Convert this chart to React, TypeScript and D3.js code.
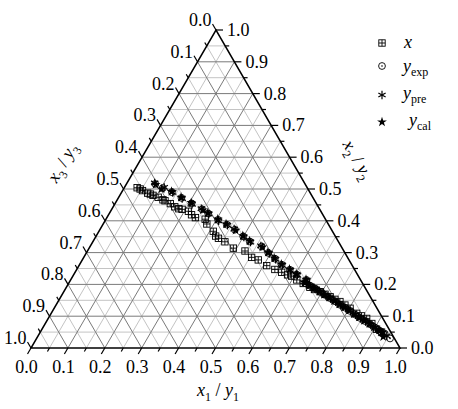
import React from "react";
import * as d3 from "d3";

// composition pairs [x1, x2]  (x3 = 1 - x1 - x2)
const xPhase: [number, number][] = [
  [0.035, 0.504], [0.045, 0.5], [0.054, 0.495], [0.072, 0.487], [0.081, 0.484],
  [0.09, 0.48], [0.107, 0.474], [0.124, 0.466], [0.131, 0.463], [0.15, 0.454],
  [0.167, 0.444], [0.181, 0.438], [0.191, 0.436], [0.211, 0.43], [0.225, 0.419],
  [0.24, 0.41], [0.269, 0.405], [0.281, 0.39], [0.31, 0.367], [0.324, 0.352],
  [0.335, 0.345], [0.358, 0.334], [0.391, 0.314], [0.427, 0.305], [0.455, 0.285],
  [0.477, 0.277], [0.509, 0.259], [0.537, 0.247], [0.56, 0.238], [0.58, 0.23],
  [0.593, 0.226], [0.613, 0.214], [0.636, 0.203], [0.66, 0.191], [0.676, 0.184],
  [0.695, 0.177], [0.712, 0.169], [0.73, 0.161], [0.747, 0.153], [0.764, 0.146],
  [0.783, 0.135], [0.802, 0.125], [0.828, 0.109], [0.845, 0.101], [0.863, 0.093],
  [0.885, 0.077], [0.907, 0.059], [0.925, 0.05],
];

const yExp: [number, number][] = [
  [0.078, 0.516], [0.105, 0.503], [0.136, 0.49], [0.171, 0.472], [0.207, 0.455],
  [0.245, 0.436], [0.268, 0.423], [0.305, 0.403], [0.336, 0.388], [0.366, 0.372],
  [0.399, 0.351], [0.425, 0.335], [0.465, 0.319], [0.493, 0.299], [0.52, 0.281],
  [0.548, 0.262], [0.578, 0.246], [0.604, 0.231], [0.639, 0.214], [0.641, 0.204],
  [0.658, 0.196], [0.676, 0.187], [0.695, 0.177], [0.713, 0.167], [0.731, 0.157],
  [0.75, 0.147], [0.769, 0.136], [0.787, 0.127], [0.805, 0.117], [0.824, 0.106],
  [0.843, 0.095], [0.862, 0.085], [0.881, 0.075], [0.899, 0.065], [0.918, 0.054],
  [0.936, 0.045], [0.958, 0.03],
];

const yPre: [number, number][] = [
  [0.075, 0.519], [0.108, 0.505], [0.139, 0.489], [0.174, 0.47], [0.21, 0.452],
  [0.242, 0.438], [0.271, 0.421], [0.308, 0.4], [0.339, 0.386], [0.363, 0.374],
  [0.402, 0.349], [0.428, 0.333], [0.462, 0.321], [0.497, 0.297], [0.523, 0.279],
  [0.551, 0.26], [0.581, 0.244], [0.607, 0.229], [0.642, 0.212], [0.644, 0.203],
  [0.661, 0.194], [0.679, 0.185], [0.698, 0.175], [0.716, 0.165], [0.734, 0.155],
  [0.753, 0.145], [0.772, 0.134], [0.79, 0.125], [0.808, 0.115], [0.827, 0.104],
  [0.846, 0.093], [0.865, 0.083], [0.884, 0.073], [0.902, 0.063], [0.921, 0.052],
  [0.93, 0.047], [0.945, 0.038],
];

const yCal: [number, number][] = [
  [0.08, 0.514], [0.103, 0.5], [0.134, 0.492], [0.169, 0.474], [0.205, 0.457],
  [0.248, 0.434], [0.266, 0.425], [0.303, 0.405], [0.333, 0.39], [0.369, 0.37],
  [0.397, 0.353], [0.423, 0.337], [0.468, 0.317], [0.491, 0.301], [0.517, 0.283],
  [0.546, 0.264], [0.576, 0.248], [0.602, 0.233], [0.637, 0.216], [0.638, 0.206],
  [0.655, 0.198], [0.673, 0.188], [0.692, 0.179], [0.71, 0.168], [0.728, 0.159],
  [0.747, 0.148], [0.766, 0.138], [0.784, 0.128], [0.802, 0.119], [0.821, 0.107],
  [0.84, 0.097], [0.859, 0.086], [0.878, 0.077], [0.896, 0.066], [0.915, 0.056],
  [0.926, 0.049], [0.937, 0.035],
];

const tickLabels = ["0.0", "0.1", "0.2", "0.3", "0.4", "0.5", "0.6", "0.7", "0.8", "0.9", "1.0"];

const W = 458, H = 409;
const BL = { x: 31, y: 348 }, BR = { x: 400, y: 348 }, TOP = { x: 216, y: 30 };
const s1 = d3.scaleLinear().domain([0, 1]).range([0, BR.x - BL.x]);
const s2x = d3.scaleLinear().domain([0, 1]).range([0, TOP.x - BL.x]);
const s2y = d3.scaleLinear().domain([0, 1]).range([BL.y, TOP.y]);
const proj = (x1: number, x2: number) => ({ x: BL.x + s1(x1) + s2x(x2), y: s2y(x2) });

const FONT = "'Liberation Serif', 'Times New Roman', serif";
const SQ = 3.2;

function Square({ x, y }: { x: number; y: number }) {
  return (
    <g stroke="#000" strokeWidth={0.9} fill="none">
      <rect x={x - SQ} y={y - SQ} width={SQ * 2} height={SQ * 2} />
      <line x1={x - SQ} x2={x + SQ} y1={y} y2={y} />
      <line x1={x} x2={x} y1={y - SQ} y2={y + SQ} />
    </g>
  );
}
function Circ({ x, y }: { x: number; y: number }) {
  return (
    <g>
      <circle cx={x} cy={y} r={3.4} fill="none" stroke="#000" strokeWidth={0.9} />
      <circle cx={x} cy={y} r={0.8} fill="#000" />
    </g>
  );
}
function Aster({ x, y }: { x: number; y: number }) {
  const r = 4.2;
  return (
    <g stroke="#000" strokeWidth={1.2}>
      {[90, 30, 150].map((a) => {
        const dx = r * Math.cos((a * Math.PI) / 180), dy = r * Math.sin((a * Math.PI) / 180);
        return <line key={a} x1={x - dx} y1={y - dy} x2={x + dx} y2={y + dy} />;
      })}
    </g>
  );
}
const starPath = d3.symbol().type(d3.symbolStar).size(30)() as string;
function Star({ x, y }: { x: number; y: number }) {
  return <path d={starPath} transform={`translate(${x},${y})`} fill="#000" />;
}

export default function App() {
  const steps = d3.range(1, 20).map((i) => i / 20);
  const grid = (major: boolean) =>
    steps
      .filter((v) => (Math.round(v * 20) % 2 === 0) === major)
      .flatMap((v) => {
        const a1 = proj(0, v), b1 = proj(1 - v, v);
        const a2 = proj(v, 0), b2 = proj(v, 1 - v);
        const a3 = proj(0, 1 - v), b3 = proj(1 - v, 0);
        return [
          [a1, b1],
          [a2, b2],
          [a3, b3],
        ];
      });
  const tickVals = d3.range(0, 21).map((i) => i / 20);
  const c60 = 0.5, s60 = Math.sqrt(3) / 2;
  const ticks: { x1: number; y1: number; x2: number; y2: number }[] = [];
  tickVals.forEach((v, i) => {
    const len = i % 2 === 0 ? 7 : 4;
    const b = proj(v, 0);
    ticks.push({ x1: b.x, y1: b.y, x2: b.x - c60 * len, y2: b.y + s60 * len });
    const l = proj(0, 1 - v);
    ticks.push({ x1: l.x, y1: l.y, x2: l.x - c60 * len, y2: l.y - s60 * len });
    const r = proj(1 - v, v);
    ticks.push({ x1: r.x, y1: r.y, x2: r.x + len, y2: r.y });
  });
  const lab = tickLabels.map((t, i) => ({ t, v: i / 10 }));
  const P = (d: [number, number]) => proj(d[0], d[1]);

  return (
    <div style={{ position: "absolute", left: 0, top: 0 }}>
      <svg width={W} height={H} style={{ display: "block", background: "#fff" }} fontFamily={FONT}>
        <rect width={W} height={H} fill="#fff" />
        {grid(false).map(([a, b], i) => (
          <line key={"m" + i} x1={a.x} y1={a.y} x2={b.x} y2={b.y} stroke="#c4c4c4" strokeWidth={1} />
        ))}
        {grid(true).map(([a, b], i) => (
          <line key={"M" + i} x1={a.x} y1={a.y} x2={b.x} y2={b.y} stroke="#7a7a7a" strokeWidth={1} />
        ))}
        <path
          d={`M${BL.x},${BL.y}L${BR.x},${BR.y}L${TOP.x},${TOP.y}Z`}
          fill="none"
          stroke="#000"
          strokeWidth={1.5}
        />
        {ticks.map((t, i) => (
          <line key={"t" + i} {...t} stroke="#000" strokeWidth={1.2} />
        ))}
        <g fontSize={18} fill="#000">
          {lab.map(({ t, v }) => {
            const b = proj(v, 0);
            return (
              <text key={"b" + t} x={b.x - c60 * 7 - 1} y={b.y + s60 * 7 + 19} textAnchor="middle">
                {t}
              </text>
            );
          })}
          {lab.map(({ t, v }) => {
            const l = proj(0, 1 - v);
            return (
              <text key={"l" + t} x={l.x - c60 * 7 - 1} y={l.y - s60 * 7 + 2} textAnchor="end">
                {t}
              </text>
            );
          })}
          {lab.map(({ t, v }) => {
            const r = proj(1 - v, v);
            return (
              <text key={"r" + t} x={r.x + 11} y={r.y + 6} textAnchor="start">
                {t}
              </text>
            );
          })}
        </g>
        {/* axis titles */}
        <text x={218} y={396} textAnchor="middle" fontSize={18}>
          <tspan fontStyle="italic">x</tspan>
          <tspan fontSize={12} dy={5}>1</tspan>
          <tspan dy={-5}> / </tspan>
          <tspan fontStyle="italic">y</tspan>
          <tspan fontSize={12} dy={5}>1</tspan>
        </text>
        <g transform="translate(63,163) rotate(-60)">
          <text x={0} y={5} textAnchor="middle" fontSize={18}>
            <tspan fontStyle="italic">x</tspan>
            <tspan fontSize={12} dy={5}>3</tspan>
            <tspan dy={-5}> / </tspan>
            <tspan fontStyle="italic">y</tspan>
            <tspan fontSize={12} dy={5}>3</tspan>
          </text>
        </g>
        <g transform="translate(357,160) rotate(60)">
          <text x={0} y={5} textAnchor="middle" fontSize={18}>
            <tspan fontStyle="italic">x</tspan>
            <tspan fontSize={12} dy={5}>2</tspan>
            <tspan dy={-5}> / </tspan>
            <tspan fontStyle="italic">y</tspan>
            <tspan fontSize={12} dy={5}>2</tspan>
          </text>
        </g>
        {/* data */}
        {xPhase.map((d, i) => {
          const p = P(d);
          return <Square key={"x" + i} x={p.x} y={p.y} />;
        })}
        {yExp.map((d, i) => {
          const p = P(d);
          return <Circ key={"e" + i} x={p.x} y={p.y} />;
        })}
        {yPre.map((d, i) => {
          const p = P(d);
          return <Aster key={"p" + i} x={p.x} y={p.y} />;
        })}
        {yCal.map((d, i) => {
          const p = P(d);
          return <Star key={"c" + i} x={p.x} y={p.y} />;
        })}
        {/* legend */}
        <Square x={382} y={43} />
        <Circ x={382} y={66} />
        <Aster x={382} y={95} />
        <Star x={382} y={122} />
        <g fontSize={18}>
          <text x={404} y={48} fontStyle="italic">x</text>
          <text x={403} y={72}>
            <tspan fontStyle="italic">y</tspan>
            <tspan fontSize={12} dy={4}>exp</tspan>
          </text>
          <text x={403} y={99}>
            <tspan fontStyle="italic">y</tspan>
            <tspan fontSize={12} dy={4}>pre</tspan>
          </text>
          <text x={409} y={126}>
            <tspan fontStyle="italic">y</tspan>
            <tspan fontSize={12} dy={4}>cal</tspan>
          </text>
        </g>
      </svg>
    </div>
  );
}
